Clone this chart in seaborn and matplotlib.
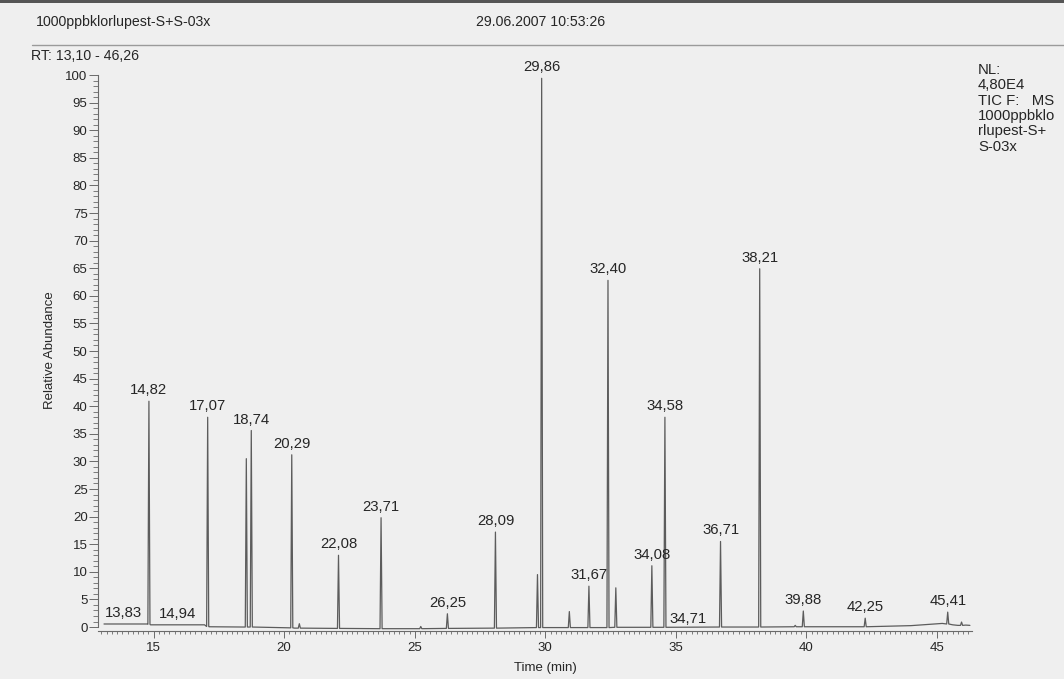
import numpy as np
import pandas as pd
import matplotlib
matplotlib.use("Agg")
import matplotlib.pyplot as plt
import seaborn as sns
from matplotlib.ticker import MultipleLocator
from matplotlib.patches import Rectangle

# ---------------- data ----------------
# baseline level (relative abundance) between peaks
base_rt = [13.10, 14.76, 14.88, 16.95, 17.12, 18.45, 20.40, 24.00, 28.00, 30.00,
           34.00, 38.00, 42.00, 44.00, 45.20, 45.60, 45.80, 46.10, 46.26]
base_ab = [0.55, 0.55, 0.40, 0.40, 0.05, 0.00, -0.20, -0.30, -0.20, -0.10,
           -0.05, 0.00, 0.05, 0.25, 0.65, 0.40, 0.30, 0.35, 0.30]

# peaks: retention time, apex abundance, foot level
peak_rt = [14.82, 17.07, 18.55, 18.74, 20.29, 20.58, 22.08, 23.71, 25.23, 26.25,
           28.09, 29.70, 29.86, 30.92, 31.67, 32.40, 32.70, 34.08, 34.58, 36.71,
           38.21, 39.57, 39.88, 42.25, 45.41, 45.94]
peak_ab = [40.9, 38.0, 30.5, 35.6, 31.2, 0.6, 13.0, 19.8, 0.1, 2.4,
           17.2, 9.5, 99.4, 2.8, 7.4, 62.8, 7.1, 11.1, 38.0, 15.5,
           64.9, 0.3, 2.9, 1.6, 2.7, 0.9]
peak_foot = [0.5, 0.1, 0.0, 0.0, -0.15, -0.2, -0.25, -0.3, -0.3, -0.25,
             -0.2, -0.1, -0.1, -0.1, -0.1, -0.1, -0.05, -0.05, -0.05, 0.0,
             0.0, 0.05, 0.05, 0.05, 0.55, 0.3]

# labelled retention times (label text, time, label level)
label_rt = [13.83, 14.82, 14.94, 17.07, 18.74, 20.29, 22.08, 23.71, 26.25, 28.09,
            29.86, 31.67, 32.40, 34.08, 34.58, 34.71, 36.71, 38.21, 39.88, 42.25, 45.41]
label_ab = [0.55, 40.9, 0.45, 38.0, 35.6, 31.2, 13.0, 19.8, 2.4, 17.2,
            99.4, 7.4, 62.8, 11.1, 38.0, -0.05, 15.5, 64.9, 2.9, 1.6, 2.7]
label_txt = ["13,83", "14,82", "14,94", "17,07", "18,74", "20,29", "22,08", "23,71",
             "26,25", "28,09", "29,86", "31,67", "32,40", "34,08", "34,58", "34,71",
             "36,71", "38,21", "39,88", "42,25", "45,41"]

y_ticks = list(range(0, 101, 5))
x_ticks = [15, 20, 25, 30, 35, 40, 45]

# ---------------- build the trace from the peak table ----------------
half_w = 0.04
pts_t = list(base_rt)
pts_a = list(base_ab)
for rt, ab, ft in zip(peak_rt, peak_ab, peak_foot):
    pts_t += [rt - half_w, rt, rt + half_w]
    pts_a += [ft, ab, ft]
trace = pd.DataFrame({"t": pts_t, "a": pts_a}).sort_values("t", kind="mergesort")

# ---------------- drawing ----------------
sns.set_theme(style="white")
plt.rcParams["font.family"] = ["Liberation Sans", "DejaVu Sans"]
paper = "#efefef"
ink = "#262626"
axis_col = "#6a6a6a"

W, H = 1064, 679
fig = plt.figure(figsize=(W / 100, H / 100), dpi=100, facecolor=paper)
ax = fig.add_axes([98 / W, 1 - 631 / H, (972 - 98) / W, (631 - 75) / H])
ax.set_facecolor(paper)

sns.lineplot(data=trace, x="t", y="a", sort=False, estimator=None,
             color="#5c5c5c", lw=0.9, ax=ax)

ax.set_xlim(12.87, 46.34)
ax.set_ylim(-0.72, 100)

for s in ["top", "right"]:
    ax.spines[s].set_visible(False)
for s in ["left", "bottom"]:
    ax.spines[s].set_color(axis_col)
    ax.spines[s].set_linewidth(0.8)
ax.spines["left"].set_bounds(0, 100)

ax.set_yticks(y_ticks)
ax.set_yticklabels([str(v) for v in y_ticks])
ax.yaxis.set_minor_locator(MultipleLocator(1))
ax.set_xticks(x_ticks)
ax.set_xticklabels([str(v) for v in x_ticks])
ax.xaxis.set_minor_locator(MultipleLocator(0.2))

ax.tick_params(axis="y", which="major", length=6.5, width=0.7, color=axis_col,
               labelsize=9.5, labelcolor=ink, pad=1, left=True)
ax.tick_params(axis="y", which="minor", length=3.5, width=0.6, color=axis_col, left=True)
ax.tick_params(axis="x", which="major", length=5, width=0.7, color=axis_col,
               labelsize=9.5, labelcolor=ink, pad=3, bottom=True)
ax.tick_params(axis="x", which="minor", length=2.5, width=0.6, color=axis_col, bottom=True)

ax.set_xlabel("")
ax.set_ylabel("")

# peak labels
label_dx = {"14,94": 25, "34,71": 20}
label_dy = {"34,71": 1}
for txt, rt, ab in zip(label_txt, label_rt, label_ab):
    ax.annotate(txt, xy=(rt, ab), xytext=(label_dx.get(txt, 0), label_dy.get(txt, 4)),
                textcoords="offset pixels", ha="center", va="bottom",
                fontsize=10.7, color=ink, annotation_clip=False)

# page texts
fig.text(36 / W, 1 - 22 / H, "1000ppbklorlupest-S+S-03x", ha="left", va="center",
         fontsize=10.2, color=ink)
fig.text(476 / W, 1 - 22 / H, "29.06.2007 10:53:26", ha="left", va="center",
         fontsize=10.2, color=ink)
fig.add_artist(plt.Line2D([32 / W, 1.0], [1 - 45 / H, 1 - 45 / H],
                          transform=fig.transFigure, color="#9a9a9a", lw=1.0))
fig.text(31 / W, 1 - 56 / H, "RT: 13,10 - 46,26", ha="left", va="center",
         fontsize=10.2, color=ink)
fig.text(978 / W, 1 - 63 / H, "NL:\n4,80E4\nTIC F:   MS\n1000ppbklo\nrlupest-S+\nS-03x",
         ha="left", va="top", fontsize=10.7, color=ink, linespacing=1.12)
fig.text(50 / W, 1 - 350 / H, "Relative Abundance", rotation=90, ha="center",
         va="center", fontsize=9.5, color=ink)
fig.text(545 / W, 1 - 662 / H, "Time (min)", ha="center", va="top",
         fontsize=9.5, color=ink)

# scanner edge at the top
fig.add_artist(Rectangle((0, 1 - 3 / H), 1, 3 / H, transform=fig.transFigure,
                         color="#555555", lw=0))

fig.savefig("out.png", dpi=100, facecolor=paper)
